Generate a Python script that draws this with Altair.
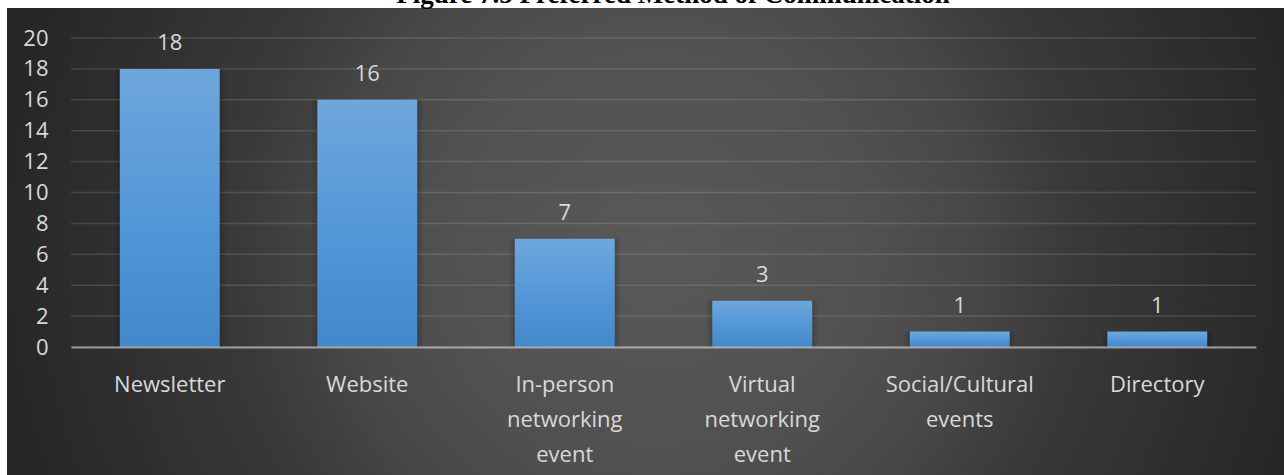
import altair as alt
import pandas as pd

categories = ["Newsletter", "Website", "In-person networking event",
              "Virtual networking event", "Social/Cultural events", "Directory"]
values = [18, 16, 7, 3, 1, 1]
y_ticks = [0, 2, 4, 6, 8, 10, 12, 14, 16, 18, 20]
title_text = "Figure 7.5 Preferred Method of Communication"

df = pd.DataFrame({"method": categories, "count": values})
grid_df = pd.DataFrame({"count": y_ticks})
one = pd.DataFrame({"k": [0]})

W, H = 1185, 309
PAD = {"left": 71, "top": 38, "right": 28, "bottom": 128}
FONT = "Open Sans"
TXT = "#d9d9d9"

bg_grad = alt.RadialGradient(
    gradient="radial", x1=0.5, y1=0.5, r1=0, x2=0.5, y2=0.5, r2=0.5,
    stops=[alt.GradientStop(offset=0, color="#595959"),
           alt.GradientStop(offset=0.35, color="#505050"),
           alt.GradientStop(offset=0.5, color="#474747"),
           alt.GradientStop(offset=0.65, color="#393939"),
           alt.GradientStop(offset=1, color="#272727")])

background = alt.Chart(one).mark_rect(color=bg_grad).encode(
    x=alt.value(7 - PAD["left"]), x2=alt.value(1284 + 20 - PAD["left"]),
    y=alt.value(8 - PAD["top"]), y2=alt.value(475 + 10 - PAD["top"]))

title = alt.Chart(one).mark_text(
    text=title_text, font="Liberation Serif", fontWeight="bold", fontSize=27,
    color="black", align="center", baseline="alphabetic").encode(
    x=alt.value(673 - PAD["left"]), y=alt.value(3 - PAD["top"]))

y_scale = alt.Scale(domain=[0, 20], nice=False)

x_enc = alt.X("method:N", sort=categories, title=None,
              scale=alt.Scale(paddingInner=0, paddingOuter=0),
              axis=alt.Axis(labelExpr="split(datum.value, ' ')", labelAngle=0,
                            labelFont=FONT, labelFontSize=22, labelColor=TXT,
                            labelLineHeight=35, labelPadding=27, labelBaseline="top",
                            ticks=False, tickSize=0, grid=False,
                            domain=True, domainColor="#d9d9d9", domainOpacity=0.6,
                            domainWidth=2, zindex=1))
y_enc = alt.Y("count:Q", title=None, scale=y_scale,
              axis=alt.Axis(values=y_ticks, labelFont=FONT, labelFontSize=22,
                            labelColor=TXT, labelPadding=23, ticks=False, tickSize=0,
                            domain=False, grid=False, zindex=1))

gridlines = alt.Chart(grid_df).mark_rule(color="white", opacity=0.13,
                                         strokeWidth=1.5).encode(
    y=y_enc, x=alt.value(0), x2=alt.value(W))

base = alt.Chart(df)

shadow1 = base.mark_bar(width=alt.RelativeBandSize(0.56), color="black",
                        opacity=0.07).encode(x=x_enc, y=y_enc)
shadow2 = base.mark_bar(width=alt.RelativeBandSize(0.53), color="black",
                        opacity=0.09).encode(x=x_enc, y=y_enc)

bar_grad = alt.LinearGradient(
    gradient="linear", x1=0, y1=0, x2=0, y2=1,
    stops=[alt.GradientStop(offset=0, color="#6ea7dc"),
           alt.GradientStop(offset=0.5, color="#5598d8"),
           alt.GradientStop(offset=1, color="#4388ca")])

bars = base.mark_bar(width=alt.RelativeBandSize(0.506), color=bar_grad).encode(
    x=x_enc, y=y_enc)

labels = base.mark_text(font=FONT, fontSize=22, color=TXT, baseline="alphabetic",
                        dy=-19).encode(x=x_enc, y=y_enc, text="count:Q")

chart = alt.layer(background, gridlines, shadow1, shadow2, bars, labels,
                  title).properties(
    width=W, height=H, padding=PAD,
    autosize=alt.AutoSizeParams(type="none"),
    background="white",
).configure_view(stroke=None)

chart.save("out.html", embed_options={"renderer": "svg", "actions": False})
